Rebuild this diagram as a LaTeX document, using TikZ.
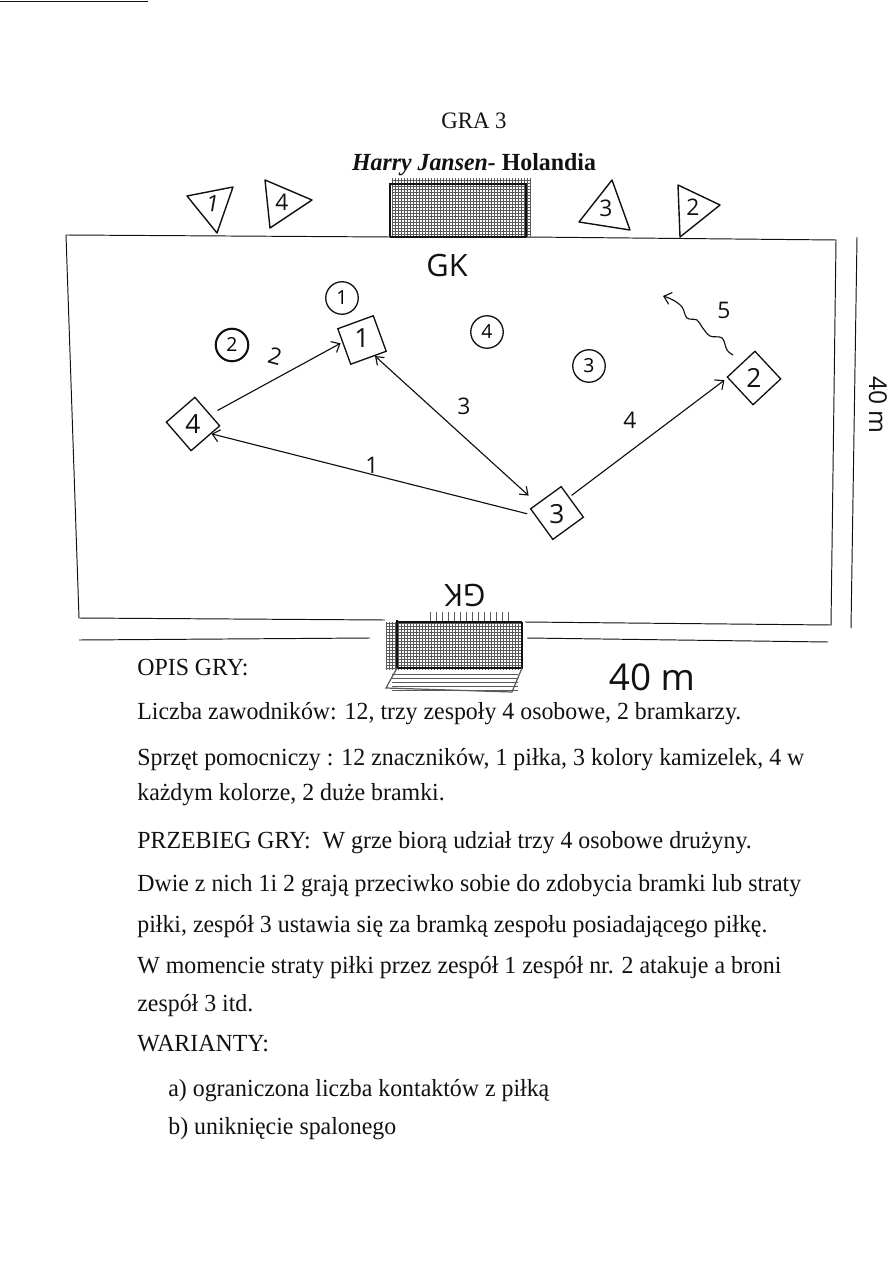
\documentclass[tikz,border=0pt]{standalone}
\usepackage{fontspec}
\setmainfont{Liberation Serif}[FakeStretch=.97]
\newfontfamily\handfont{Open Sans}
\usetikzlibrary{arrows.meta,positioning}
\definecolor{ScanInk}{HTML}{111111}
\definecolor{ScanNet}{HTML}{5A5A5A}
\tikzset{
  body line/.style={font=\fontsize{14}{16}\selectfont, text=ScanInk, anchor=west, inner sep=0pt},
  hand/.style={font=\handfont\fontsize{13}{15}\selectfont, text=ScanInk, inner sep=0pt},
  hand big/.style={hand, font=\handfont\fontsize{21}{24}\selectfont},
  hand mid/.style={hand, font=\handfont\fontsize{15}{17}\selectfont},
  hand gk/.style={hand, font=\handfont\fontsize{17.5}{20}\selectfont},
  field line/.style={draw=ScanInk, line width=.55pt},
  player/.style={draw=ScanInk, line width=.75pt, minimum size=21.5pt, inner sep=0pt},
  group mark/.style={circle, draw=ScanInk, line width=.75pt, minimum size=18.5pt, inner sep=0pt, font=\handfont\fontsize{11}{13}\selectfont},
  cone/.style={draw=ScanInk, line width=.8pt, line join=round},
  pass/.style={draw=ScanInk, line width=.65pt, -{Straight Barb[length=4pt,width=7pt]}},
  pass both/.style={pass, {Straight Barb[length=4pt,width=6pt]}-{Straight Barb[length=4pt,width=6pt]}},
  goal net/.style={draw=ScanNet, line width=.3pt},
  goal frame/.style={draw=ScanInk, line width=1pt},
}
\begin{document}
\begin{tikzpicture}[x=.02cm,y=-.02cm]
  \useasboundingbox (0,0) rectangle (893,1263);
  \draw[field line] (0,1) -- (148,1);

  % pitch
  \draw[field line] (66,235) -- (390,237);
  \draw[field line] (528,237) -- (836,240) -- (831,625) -- (525,622);
  \draw[field line] (385,620) -- (79,618) -- (66,235);
  \draw[field line] (79,640) -- (370,638);
  \draw[field line] (527,638) -- (828,642);
  \draw[field line] (857,237) -- (851,628);

  % top goal
  \foreach \x in {392,395,...,530} \draw[goal net] (\x,178) -- (\x,237);
  \foreach \y in {180,183,...,237} \draw[goal net] (392,\y) -- (530,\y);
  \draw[goal frame] (390,237) -- (390,184) -- (526,184) -- (526,237);
  \draw[goal frame] (390,237) -- (526,237);

  % bottom goal
  \foreach \x in {386,389,...,522} \draw[goal net] (\x,622) -- (\x,670);
  \foreach \x in {430,436,...,510} \draw[goal net] (\x,612) -- (\x,622);
  \foreach \y in {623,626,...,670} \draw[goal net] (386,\y) -- (522,\y);
  \foreach \y in {674,678,...,690} \draw[goal net] (392,\y) -- (518,\y);
  \draw[goal frame] (397,620) -- (397,668) -- (522,668) -- (522,622);
  \draw[goal frame] (397,622) -- (522,622);
  \draw[goal net, line width=.7pt] (397,668) -- (386,688) -- (512,692) -- (522,668);

  % titles
  \node[body line, anchor=center, font=\fontsize{13.4}{15}\selectfont] (title) at (474,121) {GRA 3};
  \node[body line, anchor=center] (author) at (474,165)
    {\textbf{\textit{Harry Jansen-} Holandia}};

  % cones behind the goal
  \draw[cone] (187,196) -- (233,187) -- (217,233) -- cycle;
  \node[hand, rotate=-10] (c1) at (213,204) {1};
  \draw[cone] (265,180) -- (312,200) -- (270,228) -- cycle;
  \node[hand] (c4) at (282,202) {4};
  \draw[cone] (579,222) -- (612,180) -- (630,230) -- cycle;
  \node[hand] (c3) at (606,208) {3};
  \draw[cone] (678,185) -- (720,205) -- (680,237) -- cycle;
  \node[hand] (c2) at (693,207) {2};

  \node[hand gk] (gk top) at (447,266) {GK};
  \node[hand gk, rotate=180] (gk bottom) at (465,595) {GK};

  % groups waiting
  \node[group mark] (g1) at (342,298) {1};
  \node[group mark, line width=1.2pt] (g2) at (232,345) {2};
  \node[group mark] (g4) at (487,332) {4};
  \node[group mark] (g3) at (589,366) {3};

  % players
  \node[player, rotate=20] (p1) at (362,340) {};
  \node[player, rotate=41] (p4) at (193,424) {};
  \node[player, rotate=36] (p3) at (557,513) {};
  \node[player, rotate=43] (p2) at (754,378) {};
  \node[hand mid] (n1) at (362,338) {1};
  \node[hand mid] (n4) at (193,424) {4};
  \node[hand mid] (n3) at (557,514) {3};
  \node[hand mid] (n2) at (754,378) {2};

  % passes
  \draw[pass, shorten <=4.5pt] (p3.151) -- (p4.-69);
  \draw[pass, shorten <=4.5pt, shorten >=1pt] (p4.-12) -- (p1.167);
  \draw[pass both, shorten >=6.5pt] (p1.-71) -- (p3.118);
  \draw[pass, shorten <=1.5pt, shorten >=2pt] (p3.16) -- (p2.137);
  \coordinate (run start) at (733,355);
  \coordinate (run end) at (663,296);
  \draw[pass] plot[smooth, tension=.6] coordinates {(run start) (727,350) (722,338) (710,336)
    (702,327) (697,320) (687,318) (682,307) (673,300) (run end)};

  \node[hand, rotate=-15] (l2) at (275,356) {2};
  \node[hand] (l3) at (464,406) {3};
  \node[hand] (l1) at (372,465) {1};
  \node[hand] (l4) at (630,420) {4};
  \node[hand] (l5) at (724,310) {5};

  \node[hand big] (width) at (652,677) {40 m};
  \node[hand, rotate=-90, font=\handfont\fontsize{14}{16}\selectfont] (depth) at (878,405) {40 m};

  % description
  \node[body line] (opis) at (137,668) {OPIS GRY:};
  \node[body line] (t1) at (137,714) {Liczba zawodników: 12, trzy zespoły 4 osobowe, 2 bramkarzy.};
  \node[body line] (t2) at (137,760) {Sprzęt pomocniczy : 12 znaczników, 1 piłka, 3 kolory kamizelek, 4 w};
  \node[body line] (t3) at (137,795) {każdym kolorze, 2 duże bramki.};
  \node[body line] (t4) at (137,843) {PRZEBIEG GRY:\ \ W grze biorą udział trzy 4 osobowe drużyny.};
  \node[body line] (t5) at (137,886) {Dwie z nich 1i 2 grają przeciwko sobie do zdobycia bramki lub straty};
  \node[body line] (t6) at (137,927) {piłki, zespół 3 ustawia się za bramką zespołu posiadającego piłkę.};
  \node[body line] (t7) at (137,968) {W momencie straty piłki przez zespół 1 zespół nr. 2 atakuje a broni};
  \node[body line] (t8) at (137,1006) {zespół 3 itd.};
  \node[body line] (t9) at (137,1044) {WARIANTY:};
  \node[body line] (t10) at (168,1091) {a) ograniczona liczba kontaktów z piłką};
  \node[body line] (t11) at (168,1129) {b) uniknięcie spalonego};
\end{tikzpicture}
\end{document}
